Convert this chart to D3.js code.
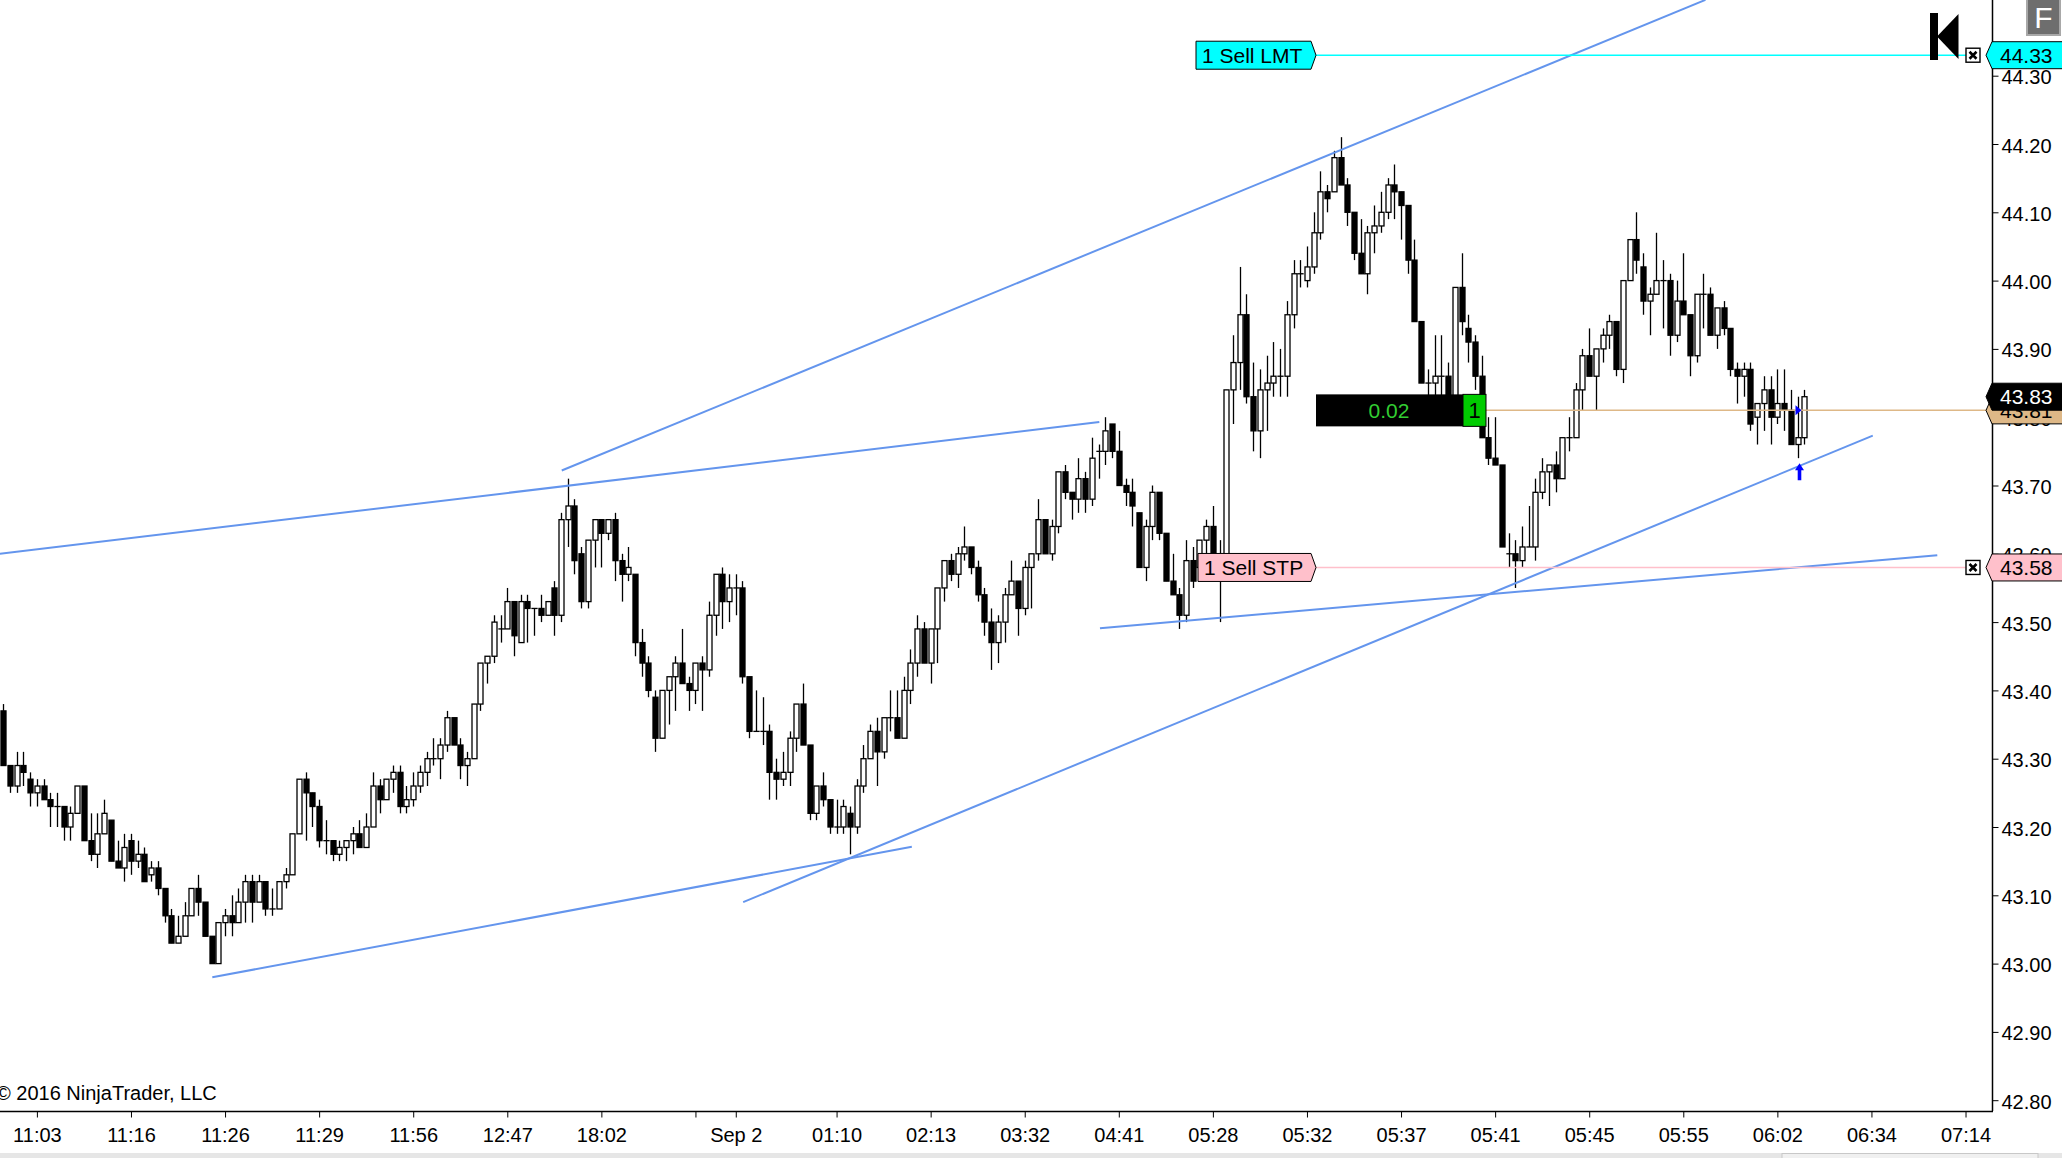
<!DOCTYPE html>
<html><head><meta charset="utf-8">
<script src="https://cdn.jsdelivr.net/npm/d3@7"></script>
<style>
html,body{margin:0;padding:0;background:#fff;overflow:hidden}
svg{display:block}
text{font-family:Arial,"Liberation Sans",sans-serif}
</style></head>
<body>
<svg id="c" width="2062" height="1158"></svg>
<script>
// ---------- DATA ----------
const opens = [
43.37,43.29,43.26,43.29,43.27,43.25,43.26,43.24,43.23,43.23,
43.20,43.22,43.26,43.18,43.16,43.19,43.21,43.15,43.14,43.18,
43.15,43.16,43.13,43.14,43.11,43.07,43.03,43.04,43.07,43.11,
43.09,43.04,43.00,43.06,43.07,43.06,43.09,43.12,43.09,43.12,
43.08,43.08,43.12,43.13,43.19,43.27,43.25,43.23,43.18,43.18,
43.16,43.17,43.18,43.19,43.17,43.20,43.26,43.24,43.27,43.28,
43.23,43.24,43.26,43.28,43.30,43.30,43.32,43.36,43.32,43.29,
43.30,43.38,43.44,43.45,43.49,43.49,43.53,43.47,43.53,43.52,
43.52,43.51,43.55,43.51,43.65,43.67,43.60,43.53,43.62,43.65,
43.63,43.65,43.59,43.57,43.57,43.47,43.44,43.39,43.33,43.40,
43.42,43.44,43.41,43.40,43.44,43.43,43.51,43.57,43.53,43.55,
43.55,43.42,43.34,43.34,43.34,43.28,43.27,43.28,43.33,43.38,
43.32,43.22,43.26,43.24,43.20,43.20,43.22,43.20,43.26,43.30,
43.34,43.31,43.36,43.36,43.33,43.40,43.44,43.49,43.44,43.49,
43.55,43.59,43.57,43.60,43.61,43.58,43.54,43.50,43.47,43.50,
43.54,43.56,43.52,43.58,43.60,43.65,43.60,43.64,43.72,43.69,
43.68,43.71,43.68,43.75,43.75,43.79,43.75,43.70,43.69,43.66,
43.58,43.64,43.69,43.63,43.56,43.54,43.51,43.59,43.58,43.62,
43.64,43.59,43.58,43.84,43.88,43.95,43.83,43.78,43.84,43.85,
43.86,43.86,43.95,44.01,44.00,44.02,44.07,44.13,44.13,44.18,
44.14,44.10,44.04,44.01,44.07,44.08,44.10,44.14,44.13,44.11,
44.03,43.94,43.85,43.85,43.86,43.86,43.83,43.99,43.93,43.91,
43.86,43.77,43.74,43.73,43.60,43.60,43.59,43.61,43.61,43.69,
43.72,43.73,43.71,43.77,43.77,43.84,43.89,43.86,43.90,43.92,
43.94,43.87,44.00,44.06,44.02,43.97,43.98,44.00,44.00,43.92,
43.97,43.95,43.89,43.98,43.98,43.92,43.96,43.93,43.87,43.86,
43.87,43.80,43.82,43.84,43.80,43.82,43.81,43.76,43.77];
const highs = [
43.38,43.29,43.31,43.31,43.28,43.27,43.27,43.25,43.25,43.23,
43.23,43.26,43.26,43.22,43.22,43.24,43.21,43.18,43.19,43.19,
43.18,43.17,43.15,43.15,43.11,43.08,43.07,43.09,43.11,43.13,
43.09,43.04,43.06,43.08,43.10,43.11,43.13,43.13,43.13,43.12,
43.11,43.12,43.14,43.19,43.27,43.28,43.25,43.24,43.21,43.18,
43.18,43.18,43.20,43.21,43.22,43.28,43.27,43.27,43.29,43.29,
43.26,43.28,43.29,43.31,43.33,43.33,43.37,43.36,43.33,43.31,
43.38,43.44,43.45,43.51,43.51,43.55,43.53,43.54,43.54,43.52,
43.54,43.53,43.56,43.66,43.71,43.68,43.61,43.62,43.65,43.65,
43.65,43.66,43.60,43.61,43.57,43.49,43.45,43.40,43.40,43.42,
43.45,43.49,43.42,43.44,43.45,43.53,43.57,43.58,43.57,43.57,
43.56,43.42,43.40,43.39,43.35,43.30,43.31,43.34,43.38,43.41,
43.32,43.26,43.28,43.24,43.24,43.24,43.23,43.27,43.32,43.35,
43.36,43.36,43.40,43.40,43.42,43.46,43.51,43.50,43.49,43.55,
43.59,43.60,43.61,43.64,43.61,43.59,43.55,43.52,43.51,43.55,
43.59,43.56,43.59,43.60,43.68,43.65,43.65,43.72,43.73,43.69,
43.74,43.72,43.77,43.76,43.80,43.79,43.78,43.71,43.71,43.66,
43.65,43.70,43.69,43.63,43.60,43.55,43.62,43.61,43.62,43.65,
43.67,43.62,43.84,43.92,44.02,43.98,43.88,43.87,43.89,43.91,
43.90,43.97,44.03,44.03,44.05,44.10,44.16,44.14,44.19,44.21,
44.15,44.10,44.09,44.08,44.11,44.13,44.15,44.17,44.13,44.11,
44.06,43.94,43.87,43.92,43.92,43.88,43.99,44.04,43.95,43.92,
43.89,43.80,43.80,43.73,43.63,43.62,43.64,43.67,43.71,43.74,
43.73,43.75,43.77,43.80,43.85,43.90,43.93,43.90,43.93,43.95,
43.94,44.00,44.06,44.10,44.04,43.99,44.07,44.03,44.01,44.00,
44.04,43.95,43.98,44.01,43.99,43.96,43.97,43.93,43.88,43.88,
43.88,43.82,43.86,43.86,43.87,43.87,43.84,43.83,43.84];
const lows = [
43.29,43.25,43.25,43.26,43.23,43.23,43.24,43.20,43.20,43.18,
43.18,43.22,43.18,43.15,43.14,43.19,43.15,43.14,43.12,43.13,
43.14,43.12,43.12,43.10,43.06,43.03,43.03,43.04,43.07,43.07,
43.04,43.00,43.00,43.04,43.04,43.06,43.06,43.06,43.09,43.07,
43.07,43.08,43.11,43.13,43.19,43.18,43.20,43.17,43.16,43.15,
43.15,43.15,43.16,43.17,43.17,43.20,43.22,43.24,43.25,43.22,
43.22,43.23,43.25,43.26,43.29,43.27,43.31,43.32,43.27,43.26,
43.30,43.37,43.41,43.44,43.47,43.49,43.45,43.47,43.47,43.48,
43.50,43.51,43.48,43.50,43.61,43.57,43.52,43.52,43.58,43.58,
43.62,43.56,43.53,43.56,43.45,43.42,43.39,43.31,43.33,43.35,
43.37,43.41,43.37,43.38,43.37,43.42,43.48,43.49,43.50,43.51,
43.41,43.33,43.34,43.32,43.24,43.24,43.26,43.26,43.31,43.32,
43.21,43.21,43.23,43.19,43.19,43.19,43.16,43.19,43.25,43.30,
43.26,43.30,43.34,43.33,43.33,43.38,43.42,43.44,43.41,43.44,
43.53,43.56,43.55,43.59,43.57,43.53,43.48,43.43,43.44,43.47,
43.54,43.48,43.51,43.52,43.59,43.60,43.59,43.63,43.68,43.65,
43.66,43.66,43.67,43.71,43.73,43.74,43.70,43.67,43.64,43.58,
43.56,43.62,43.62,43.56,43.54,43.49,43.50,43.55,43.57,43.60,
43.58,43.50,43.57,43.79,43.84,43.82,43.75,43.74,43.78,43.83,
43.83,43.83,43.93,43.99,43.99,44.01,44.06,44.10,44.13,44.14,
44.08,44.03,44.01,43.98,44.04,44.07,44.09,44.09,44.06,44.01,
43.94,43.85,43.83,43.83,43.83,43.82,43.82,43.92,43.88,43.84,
43.77,43.73,43.73,43.61,43.58,43.55,43.58,43.61,43.59,43.68,
43.67,43.69,43.71,43.75,43.77,43.81,43.86,43.81,43.88,43.90,
43.86,43.85,44.00,44.01,43.95,43.92,43.98,43.93,43.89,43.91,
43.95,43.86,43.88,43.93,43.92,43.90,43.92,43.86,43.82,43.83,
43.78,43.76,43.78,43.76,43.79,43.78,43.76,43.74,43.76];
const closes = [
43.29,43.26,43.29,43.28,43.25,43.26,43.24,43.23,43.23,43.20,
43.22,43.26,43.18,43.16,43.19,43.22,43.15,43.14,43.17,43.15,
43.16,43.12,43.14,43.11,43.07,43.03,43.04,43.07,43.11,43.09,
43.04,43.00,43.06,43.07,43.06,43.09,43.12,43.09,43.12,43.08,
43.08,43.12,43.13,43.19,43.27,43.25,43.23,43.18,43.18,43.16,
43.17,43.18,43.19,43.17,43.20,43.26,43.24,43.27,43.28,43.23,
43.24,43.26,43.28,43.30,43.30,43.32,43.36,43.32,43.29,43.30,
43.38,43.44,43.45,43.50,43.49,43.53,43.48,43.53,43.52,43.52,
43.51,43.53,43.51,43.65,43.67,43.59,43.53,43.62,43.65,43.63,
43.65,43.59,43.57,43.58,43.47,43.44,43.40,43.33,43.40,43.42,
43.44,43.41,43.40,43.44,43.43,43.51,43.57,43.53,43.55,43.55,
43.42,43.34,43.34,43.34,43.28,43.27,43.28,43.33,43.38,43.32,
43.22,43.26,43.24,43.20,43.20,43.23,43.20,43.26,43.30,43.34,
43.31,43.36,43.36,43.33,43.40,43.44,43.49,43.44,43.49,43.55,
43.59,43.57,43.60,43.61,43.58,43.54,43.50,43.47,43.50,43.54,
43.56,43.52,43.58,43.60,43.65,43.60,43.64,43.72,43.69,43.68,
43.71,43.68,43.74,43.75,43.78,43.75,43.70,43.69,43.67,43.58,
43.64,43.69,43.63,43.56,43.54,43.51,43.59,43.56,43.62,43.64,
43.60,43.58,43.84,43.88,43.95,43.83,43.78,43.84,43.85,43.86,
43.86,43.95,44.01,44.01,44.02,44.07,44.13,44.12,44.18,44.14,
44.10,44.04,44.01,44.07,44.08,44.10,44.14,44.13,44.11,44.03,
43.94,43.85,43.85,43.86,43.86,43.83,43.99,43.94,43.91,43.86,
43.77,43.74,43.73,43.61,43.60,43.59,43.61,43.61,43.69,43.72,
43.73,43.71,43.77,43.77,43.84,43.89,43.86,43.90,43.92,43.94,
43.87,44.00,44.06,44.03,43.97,43.98,44.00,44.00,43.92,43.97,
43.95,43.89,43.98,43.98,43.92,43.96,43.93,43.87,43.86,43.87,
43.79,43.82,43.84,43.80,43.82,43.81,43.76,43.77,43.83];

const xTickBars   = [5,19,33,47,61,75,89,103,109,124,138,152,166,180,194,208,222,236,250,264,278,292];
const xTickLabels = ["11:03","11:16","11:26","11:29","11:56","12:47","18:02","","Sep 2","01:10","02:13","03:32","04:41","05:28","05:32","05:37","05:41","05:45","05:55","06:02","06:34","07:14"];
const yTicks = [42.8,42.9,43.0,43.1,43.2,43.3,43.4,43.5,43.6,43.7,43.8,43.9,44.0,44.1,44.2,44.3];

// trend lines: [bar, price] endpoints
const trendLines = [
  [[83.1,43.722],[253.3,44.411]],
  [[-0.5,43.600],[163.1,43.793]],
  [[31.1,42.980],[135.2,43.171]],
  [[110.1,43.090],[278.2,43.773]],
  [[163.2,43.491],[287.8,43.598]]
];
const sellLmtPrice = 44.33, sellStpPrice = 43.58, avgPrice = 43.81, lastPrice = 43.83;
const pnlText = "0.02", posQty = "1";
const arrowBar = 267;

// ---------- LAYOUT ----------
const W = 2062, H = 1158, axisX = 1992, axisY = 1111;
const svg = d3.select("#c");
svg.append("rect").attr("width",W).attr("height",H).attr("fill","#fff");
const x = d3.scaleLinear().domain([0,296]).range([3.3,1992.4]);
const y = d3.scaleLinear().domain([42.8,44.3]).range([1100.2,75.7]);
const FONT = "Arial, 'Liberation Sans', sans-serif";

svg.append("defs").append("clipPath").attr("id","plot")
  .append("rect").attr("x",0).attr("y",0).attr("width",axisX).attr("height",axisY);
const plot = svg.append("g").attr("clip-path","url(#plot)");

// candles
const idx = d3.range(opens.length);
const cg = plot.append("g");
cg.selectAll("line.w").data(idx).join("line")
  .attr("x1",i=>Math.round(x(i))+0.5).attr("x2",i=>Math.round(x(i))+0.5)
  .attr("y1",i=>y(highs[i])).attr("y2",i=>y(lows[i]))
  .attr("stroke","#000").attr("stroke-width",1.3);
const bw = 5;
cg.selectAll("rect.b").data(idx).join("rect")
  .attr("x",i=>Math.round(x(i))+0.5-bw/2)
  .attr("width",bw)
  .attr("y",i=>y(Math.max(opens[i],closes[i])))
  .attr("height",i=>Math.max(0.01,Math.abs(y(opens[i])-y(closes[i]))))
  .attr("fill",i=>closes[i]<opens[i]?"#000":"#fff")
  .attr("stroke","#000").attr("stroke-width",1.3);

// trend lines
plot.selectAll("line.t").data(trendLines).join("line")
  .attr("x1",d=>x(d[0][0])).attr("y1",d=>y(d[0][1]))
  .attr("x2",d=>x(d[1][0])).attr("y2",d=>y(d[1][1]))
  .attr("stroke","#6495ED").attr("stroke-width",2);

// order lines
function orderLabel(yc, text, fill, x0, x1){
  const h=28, y0=yc-h/2, y1=yc+h/2;
  svg.append("path").attr("d",`M${x0},${y0}L${x1-5},${y0}L${x1},${yc}L${x1-5},${y1}L${x0},${y1}Z`)
    .attr("fill",fill).attr("stroke","#000").attr("stroke-width",1);
  svg.append("text").attr("x",x0+6).attr("y",yc+7.5).attr("font-size",21).attr("fill","#000").text(text);
}
function closeBox(yc){
  svg.append("rect").attr("x",1966).attr("y",yc-7).attr("width",14).attr("height",14)
    .attr("fill","#fff").attr("stroke","#000").attr("stroke-width",1.4);
  svg.append("path").attr("d",`M${1969.5},${yc-3.5}L${1976.5},${yc+3.5}M${1976.5},${yc-3.5}L${1969.5},${yc+3.5}`)
    .attr("stroke","#000").attr("stroke-width",2.6);
}
svg.append("line").attr("x1",1316).attr("x2",1966).attr("y1",y(sellLmtPrice)).attr("y2",y(sellLmtPrice))
  .attr("stroke","#00FFFF").attr("stroke-width",1.5);
svg.append("line").attr("x1",1316).attr("x2",1966).attr("y1",y(sellStpPrice)).attr("y2",y(sellStpPrice))
  .attr("stroke","#FFC0CB").attr("stroke-width",1.5);
svg.append("line").attr("x1",1486).attr("x2",axisX).attr("y1",y(avgPrice)).attr("y2",y(avgPrice))
  .attr("stroke","#DEB887").attr("stroke-width",1.5);

orderLabel(y(sellLmtPrice),"1 Sell LMT","#00FFFF",1196,1316);
orderLabel(y(sellStpPrice),"1 Sell STP","#FFC0CB",1198,1316);
closeBox(y(sellLmtPrice));
closeBox(y(sellStpPrice));

// PnL box
const ay = y(avgPrice);
svg.append("rect").attr("x",1316).attr("y",ay-16).attr("width",147).attr("height",32).attr("fill","#000");
svg.append("text").attr("x",1389).attr("y",ay+8).attr("text-anchor","middle").attr("font-size",21)
  .attr("fill","#32CD32").text(pnlText);
svg.append("rect").attr("x",1463).attr("y",ay-16).attr("width",23).attr("height",32)
  .attr("fill","#00CC00").attr("stroke","#000").attr("stroke-width",1);
svg.append("text").attr("x",1474.5).attr("y",ay+8).attr("text-anchor","middle").attr("font-size",22)
  .attr("fill","#000").text(posQty);

// execution markers / arrow
const axp = Math.round(x(arrowBar))+1.5;
const arrowY = y(lows[arrowBar]);
svg.append("path").attr("d",`M${axp},${arrowY+5}L${axp-4.5},${arrowY+12}L${axp-1.8},${arrowY+12}L${axp-1.8},${arrowY+22}L${axp+1.8},${arrowY+22}L${axp+1.8},${arrowY+12}L${axp+4.5},${arrowY+12}Z`)
  .attr("fill","#0000FF");
svg.append("path").attr("d",`M${axp-4},${ay-5}L${axp+2},${ay}L${axp-4},${ay+5}Z`).attr("fill","#0000FF");

// ---------- AXES ----------
svg.append("line").attr("x1",axisX+0.5).attr("x2",axisX+0.5).attr("y1",0).attr("y2",axisY)
  .attr("stroke","#000").attr("stroke-width",1.5);
svg.append("line").attr("x1",0).attr("x2",axisX+1).attr("y1",axisY+0.5).attr("y2",axisY+0.5)
  .attr("stroke","#000").attr("stroke-width",1.5);

const yAxis = d3.axisRight(y).tickValues(yTicks).tickFormat(d3.format(".2f")).tickSize(6).tickPadding(3);
const gy = svg.append("g").attr("transform",`translate(${axisX+0.5},0)`).call(yAxis);
gy.select(".domain").remove();
gy.selectAll("text").attr("font-size",20).attr("font-family",FONT).attr("fill","#000").attr("dy","0.4em");
gy.selectAll("line").attr("stroke","#000");

const xAxis = d3.axisBottom(x).tickValues(xTickBars).tickFormat((d,i)=>xTickLabels[i]).tickSize(6).tickPadding(10);
const gx = svg.append("g").attr("transform",`translate(0,${axisY+0.5})`).call(xAxis);
gx.select(".domain").remove();
gx.selectAll("text").attr("font-size",20).attr("font-family",FONT).attr("fill","#000");
gx.selectAll("line").attr("stroke","#000");

// right-axis price tags
function tag(yc, text, fill, color){
  const h=27, y0=yc-h/2, y1=yc+h/2;
  svg.append("path").attr("d",`M1986,${yc}L1992,${y0}L2063,${y0}L2063,${y1}L1992,${y1}Z`)
    .attr("fill",fill).attr("stroke","#000").attr("stroke-width",1);
  svg.append("text").attr("x",2000).attr("y",yc+7.5).attr("font-size",21).attr("fill",color).text(text);
}
tag(y(sellLmtPrice), sellLmtPrice.toFixed(2), "#00FFFF", "#000");
tag(y(sellStpPrice), sellStpPrice.toFixed(2), "#FFC0CB", "#000");
tag(y(avgPrice), avgPrice.toFixed(2), "#DEB887", "#000");
tag(y(lastPrice), lastPrice.toFixed(2), "#000", "#fff");

// copyright
svg.append("text").attr("x",-4).attr("y",1100).attr("font-size",20).attr("fill","#000").text("\u00A9 2016 NinjaTrader, LLC");

// K icon
svg.append("rect").attr("x",1930).attr("y",13).attr("width",8).attr("height",47).attr("fill","#000");
svg.append("path").attr("d","M1937,36.5L1958.5,14L1958.5,59Z").attr("fill","#000");

// F button
svg.append("rect").attr("x",2027).attr("y",-2).attr("width",33).attr("height",37)
  .attr("fill","#6e6e6e").attr("stroke","#a8a8a8").attr("stroke-width",2);
svg.append("text").attr("x",2043.5).attr("y",28).attr("text-anchor","middle").attr("font-size",30)
  .attr("fill","#fff").text("F");

// bottom scroll strip
svg.append("rect").attr("x",0).attr("y",1153).attr("width",W).attr("height",5).attr("fill","#e6e6e6");
svg.append("rect").attr("x",1782).attr("y",1153.5).attr("width",256).attr("height",6)
  .attr("fill","#f0f0f0").attr("stroke","#c8c8c8").attr("stroke-width",1);
</script>
</body></html>
